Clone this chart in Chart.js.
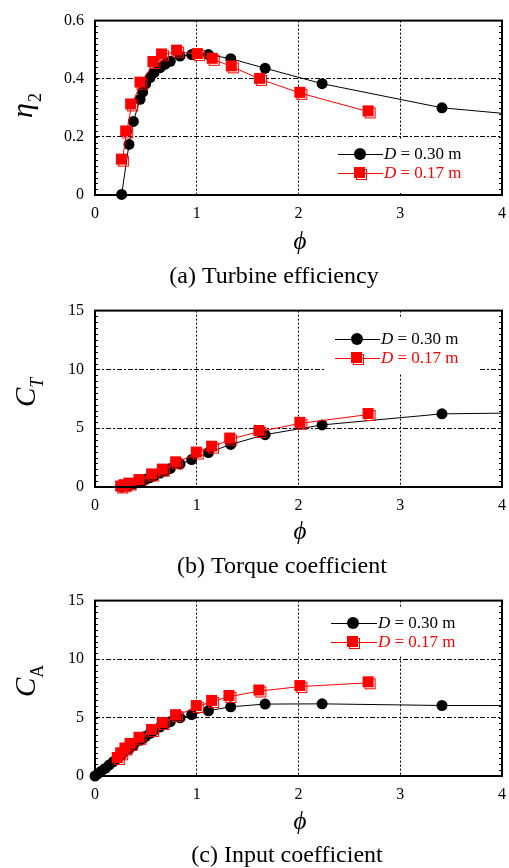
<!DOCTYPE html>
<html><head><meta charset="utf-8">
<script src="https://cdn.jsdelivr.net/npm/chart.js@4"></script>
<style>body{margin:0;background:#fff;} canvas{display:block;}</style>
</head><body>
<canvas id="c1" width="509" height="290"></canvas>
<canvas id="c2" width="509" height="290"></canvas>
<canvas id="c3" width="509" height="288"></canvas>
<script>
// ---------- data ----------
const xTicks = [0, 1, 2, 3, 4];
const xTickLabels = ['0', '1', '2', '3', '4'];
const etaTicks = [0, 0.2, 0.4, 0.6];
const etaTickLabels = ['0', '0.2', '0.4', '0.6'];
const coefTicks = [0, 5, 10, 15];
const coefTickLabels = ['0', '5', '10', '15'];
const seriesLabels = [' = 0.30 m', ' = 0.17 m'];
const captions = ['(a) Turbine efficiency', '(b) Torque coefficient', '(c) Input coefficient'];

// (a) turbine efficiency
const phiEta30 = [0.262, 0.334, 0.377, 0.443, 0.469, 0.498, 0.541, 0.58, 0.64, 0.69, 0.74, 0.836, 0.95, 1.115, 1.334, 1.672, 2.232, 3.41, 4.6];
const eta30    = [0.002, 0.174, 0.253, 0.329, 0.354, 0.382, 0.404, 0.421, 0.438, 0.45, 0.46, 0.478, 0.483, 0.483, 0.469, 0.436, 0.383, 0.30, 0.262];
const phiEta17 = [0.269, 0.311, 0.36, 0.452, 0.579, 0.664, 0.812, 1.015, 1.162, 1.349, 1.627, 2.023, 2.694];
const eta17    = [0.12, 0.217, 0.31, 0.385, 0.456, 0.482, 0.495, 0.483, 0.467, 0.441, 0.398, 0.35, 0.286];

// (b) torque coefficient
const phiCT30 = [0.262, 0.334, 0.377, 0.443, 0.469, 0.498, 0.541, 0.58, 0.64, 0.69, 0.74, 0.836, 0.95, 1.115, 1.334, 1.672, 2.232, 3.41, 4.6];
const ct30    = [0, 0.13, 0.25, 0.44, 0.53, 0.65, 0.8, 0.95, 1.18, 1.38, 1.58, 1.95, 2.33, 2.93, 3.62, 4.45, 5.28, 6.22, 6.34];
const phiCT17 = [0.262, 0.295, 0.344, 0.442, 0.566, 0.671, 0.802, 1.005, 1.156, 1.333, 1.62, 2.023, 2.694];
const ct17    = [0, 0.11, 0.25, 0.55, 1.03, 1.44, 2.06, 2.89, 3.39, 4.08, 4.72, 5.42, 6.17];

// (c) input coefficient
const phiCA30 = [0, 0.03, 0.06, 0.1, 0.14, 0.18, 0.22, 0.262, 0.334, 0.377, 0.443, 0.469, 0.498, 0.541, 0.58, 0.64, 0.69, 0.74, 0.836, 0.95, 1.115, 1.334, 1.672, 2.232, 3.41, 4.6];
const ca30    = [0, 0.2, 0.4, 0.65, 0.95, 1.22, 1.5, 1.8, 2.3, 2.6, 3.05, 3.22, 3.4, 3.65, 3.88, 4.2, 4.45, 4.65, 4.98, 5.25, 5.58, 5.92, 6.15, 6.17, 6.03, 6.02];
const phiCA17 = [0.229, 0.262, 0.304, 0.354, 0.442, 0.566, 0.671, 0.802, 1.005, 1.156, 1.326, 1.62, 2.023, 2.694];
const ca17    = [1.5, 1.9, 2.31, 2.7, 3.23, 3.9, 4.5, 5.16, 5.94, 6.38, 6.8, 7.27, 7.65, 7.97];

// ---------- styling ----------
const SERIF = '"Liberation Serif", "DejaVu Serif", serif';
const RED = '#ff0000';

function makeSquare() {
  const c = document.createElement('canvas');
  c.width = 15; c.height = 15;
  const g = c.getContext('2d');
  g.strokeStyle = RED; g.lineWidth = 1;
  g.strokeRect(3.5, 3.5, 10, 10);
  g.fillStyle = RED;
  g.fillRect(1, 1, 11, 11);
  return c;
}
const squareImg = makeSquare();

function pts(xs, ys) { return xs.map((x, i) => ({ x: x, y: ys[i] })); }

function drawLegendRow(ctx, y, color, isSquare, text, x1, x2, mx, tx) {
  ctx.save();
  ctx.strokeStyle = color; ctx.lineWidth = 1;
  ctx.beginPath(); ctx.moveTo(x1, y + 0.5); ctx.lineTo(x2, y + 0.5); ctx.stroke();
  if (isSquare) {
    ctx.drawImage(squareImg, mx - 7, y - 7);
  } else {
    ctx.fillStyle = color; ctx.beginPath(); ctx.arc(mx, y, 6, 0, Math.PI * 2); ctx.fill();
  }
  ctx.fillStyle = color; ctx.textBaseline = 'middle'; ctx.textAlign = 'left';
  ctx.font = 'italic 17px ' + SERIF;
  ctx.fillText('D', tx, y + 1);
  const w = ctx.measureText('D').width;
  ctx.font = '17px ' + SERIF;
  ctx.fillText(text, tx + w, y + 1);
  ctx.restore();
}

function panelPlugin(p) {
  return {
    id: 'panelDeco',
    afterDraw(chart) {
      const ctx = chart.ctx, a = chart.chartArea, ys = chart.scales.y;
      ctx.save();
      // minor ticks on left/right borders
      ctx.strokeStyle = '#000'; ctx.lineWidth = 1;
      const n = Math.round((ys.max - ys.min) / p.minor);
      for (let i = 1; i < n; i++) {
        const py = Math.round(ys.getPixelForValue(ys.min + i * p.minor)) + 0.5;
        ctx.beginPath();
        ctx.moveTo(a.left, py); ctx.lineTo(a.left + 3, py);
        ctx.moveTo(a.right - 3, py); ctx.lineTo(a.right, py);
        ctx.stroke();
      }
      // frame
      ctx.lineWidth = 2;
      ctx.strokeRect(a.left, a.top, a.right - a.left, a.bottom - a.top);
      // legend box
      ctx.fillStyle = '#fff';
      ctx.fillRect(p.box[0], p.box[1], p.box[2], p.box[3]);
      drawLegendRow(ctx, p.leg.y1, '#000', false, seriesLabels[0], p.leg.x1, p.leg.x2, p.leg.mx, p.leg.tx);
      drawLegendRow(ctx, p.leg.y2, RED, true, seriesLabels[1], p.leg.x1, p.leg.x2, p.leg.mx, p.leg.tx);
      // x title
      ctx.fillStyle = '#000';
      ctx.font = 'italic 25px ' + SERIF;
      ctx.textAlign = 'center'; ctx.textBaseline = 'alphabetic';
      ctx.fillText('\u03D5', p.xt[0], p.xt[1]);
      // caption
      ctx.font = '24px ' + SERIF;
      ctx.fillText(p.caption, p.cap[0], p.cap[1]);
      // y title (rotated)
      ctx.save();
      ctx.translate(p.yt[0], p.yt[1]);
      ctx.rotate(-Math.PI / 2);
      ctx.textAlign = 'left';
      ctx.font = 'italic ' + p.ytMainSize + 'px ' + SERIF;
      ctx.fillText(p.ytMain, 0, 0);
      const mw = ctx.measureText(p.ytMain).width;
      ctx.font = (p.ytSubItalic ? 'italic ' : '') + '18px ' + SERIF;
      ctx.fillText(p.ytSub, mw + p.subDx, p.subDy);
      ctx.restore();
      ctx.restore();
    }
  };
}

function makeChart(id, p) {
  const ctx = document.getElementById(id).getContext('2d');
  return new Chart(ctx, {
    type: 'scatter',
    data: {
      datasets: [
        { data: pts(p.xr, p.yr), showLine: true, borderColor: RED, borderWidth: 1,
          pointStyle: squareImg, pointRadius: 6, pointHoverRadius: 6,
          clip: { left: 8, top: 8, bottom: 8, right: 0 } },
        { data: pts(p.xb, p.yb), showLine: true, borderColor: '#000', borderWidth: 1,
          pointStyle: 'circle', pointRadius: 5.5, pointHoverRadius: 5.5,
          pointBackgroundColor: '#000', pointBorderColor: '#000', pointBorderWidth: 0,
          clip: { left: 8, top: 8, bottom: 8, right: 0 } }
      ]
    },
    options: {
      responsive: false, animation: false, devicePixelRatio: 1,
      events: [],
      layout: { padding: { left: 0, right: 7, top: 17, bottom: p.bottomPad } },
      plugins: { legend: { display: false }, tooltip: { enabled: false }, title: { display: false } },
      scales: {
        x: {
          type: 'linear', min: 0, max: 4,
          afterBuildTicks: s => { s.ticks = xTicks.map(v => ({ value: v })); },
          afterFit: s => { s.height = 32; s.paddingLeft = 0; s.paddingRight = 0; },
          ticks: { color: '#000', font: { family: SERIF, size: 16 }, padding: 9, maxRotation: 0,
            callback: (v, i) => xTickLabels[i] },
          grid: { color: '#000', lineWidth: 1, drawTicks: false },
          border: { display: false, dash: [2, 2] }
        },
        y: {
          type: 'linear', min: p.yTicks[0], max: p.yTicks[p.yTicks.length - 1],
          afterBuildTicks: s => { s.ticks = p.yTicks.map(v => ({ value: v })); },
          afterFit: s => { s.width = 95; },
          ticks: { color: '#000', font: { family: SERIF, size: 16 }, padding: 11,
            callback: (v, i) => p.yLabels[i] },
          grid: { color: '#000', lineWidth: 1, drawTicks: false },
          border: { display: false, dash: [5, 2, 2, 2] }
        }
      }
    },
    plugins: [panelPlugin(p)]
  });
}

makeChart('c1', {
  xb: phiEta30, yb: eta30, xr: phiEta17, yr: eta17,
  yTicks: etaTicks, yLabels: etaTickLabels, minor: 0.02, bottomPad: 63,
  box: [333, 139, 166, 54],
  leg: { y1: 154, y2: 173, x1: 338, x2: 383, mx: 360, tx: 384 },
  xt: [300, 249], cap: [274, 283], caption: captions[0],
  yt: [32, 118], ytMain: '\u03B7', ytMainSize: 30, ytSub: '2', ytSubItalic: false, subDx: 1, subDy: 9
});
makeChart('c2', {
  xb: phiCT30, yb: ct30, xr: phiCT17, yr: ct17,
  yTicks: coefTicks, yLabels: coefTickLabels, minor: 0.5, bottomPad: 61,
  box: [325, 28, 153, 55],
  leg: { y1: 49, y2: 68, x1: 335, x2: 380, mx: 357, tx: 381 },
  xt: [300, 249], cap: [282, 283], caption: captions[1],
  yt: [35, 117], ytMain: 'C', ytMainSize: 29, ytSub: 'T', ytSubItalic: true, subDx: 0, subDy: 8
});
makeChart('c3', {
  xb: phiCA30, yb: ca30, xr: phiCA17, yr: ca17,
  yTicks: coefTicks, yLabels: coefTickLabels, minor: 0.5, bottomPad: 60,
  box: [328, 27, 148, 48],
  leg: { y1: 43, y2: 62, x1: 331, x2: 377, mx: 353, tx: 378 },
  xt: [300, 249], cap: [287, 282], caption: captions[2],
  yt: [35, 117], ytMain: 'C', ytMainSize: 29, ytSub: 'A', ytSubItalic: false, subDx: 0, subDy: 8
});
</script>
</body></html>
